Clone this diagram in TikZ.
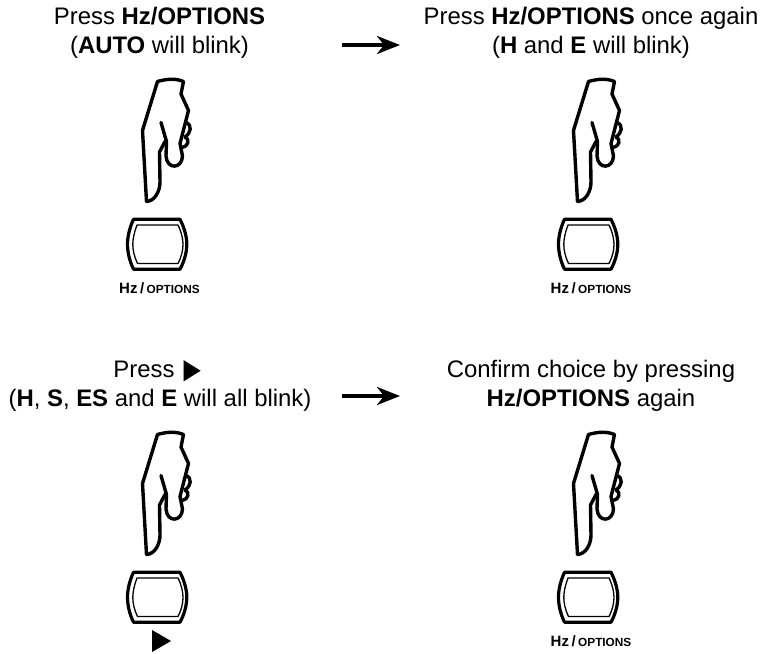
\documentclass[tikz,border=0pt]{standalone}
\usepackage{fontspec}
\setmainfont{Liberation Sans}
\usetikzlibrary{arrows.meta}
\definecolor{ink}{RGB}{0,0,0}
\tikzset{
  x=1pt,y=-1pt,
  caption/.style={align=center,font=\fontsize{23.9}{29}\selectfont,text=ink,inner sep=0pt},
  keylabel/.style={font=\fontsize{15}{17}\selectfont\bfseries,text=ink,inner sep=0pt},
  flow/.style={draw=ink,line width=3.6pt,-{Stealth[length=23pt,width=18pt,inset=7pt]}},
  hand/.pic={
    \begin{scope}[line width=3.4pt,line join=round,line cap=round,draw=ink]
    \draw (36.5,141.5) -- (32.5,70.5) -- (47.5,21.5) .. controls (58,18.5) and (66,18.5) .. (73.5,21.5)
       -- (71,34) -- (78.5,50.5) -- (70,83.5);
    \draw (36.5,141.5) .. controls (45,141) and (50,131) .. (50,122) -- (49.5,92) -- (55,81.5);
    \draw (51,62.5) -- (56.5,81.5) -- (56,96) .. controls (57,110) and (72,109) .. (72.5,96) -- (70,83.5);
    \draw (76,62.5) .. controls (82.5,65) and (81,73) .. (75,77);
    \draw (75,77) .. controls (80.5,79) and (78,87) .. (72,87.5);
    \end{scope}
  },
  keycap/.pic={
    \draw[ink,line width=3.2pt,line join=round] (33.5,14.3) -- (80,14.3) .. controls (85,24) and (86.8,33) .. (86.8,39)
       .. controls (86.8,46) and (85,55) .. (80,64.2) -- (33.5,64.2) .. controls (29,55) and (27.5,46) .. (27.5,39)
       .. controls (27.5,33) and (29,24) .. (33.5,14.3) -- cycle;
    \draw[ink,line width=1.3pt,line join=round] (37,20) -- (78,20) .. controls (81.5,27) and (83,34) .. (83,39.5)
       .. controls (83,45) and (81.5,52) .. (78,58.5) -- (37.5,58.5) .. controls (34.3,52) and (32.8,45) .. (32.8,39.5)
       .. controls (32.8,34) and (34.3,27) .. (37,20) -- cycle;
  }
}
\begin{document}
\begin{tikzpicture}
\useasboundingbox (0,0) rectangle (764,654);
\node[caption] (c1) at (159.5,33) {Press \textbf{Hz/OPTIONS}\\(\textbf{AUTO} will blink)};
\node[caption] (c2) at (591,33) {Press \textbf{Hz/OPTIONS} once again\\(\textbf{H} and \textbf{E} will blink)};
\node[caption] (c3) at (160,386) {Press \hspace{-3pt}\raisebox{-4pt}{\scalebox{1.2}[1.5]{►}}\\(\textbf{H}, \textbf{S}, \textbf{ES} and \textbf{E} will all blink)};
\node[caption] (c4) at (591,386) {Confirm choice by pressing\\\textbf{Hz/OPTIONS} again};
\coordinate (a1s) at (342,45); \coordinate (a1e) at (400,45);
\coordinate (a2s) at (342,396); \coordinate (a2e) at (400,396);
\draw[flow] (a1s) -- (a1e);
\draw[flow] (a2s) -- (a2e);
\pic at (110,60) {hand};
\pic at (541,60) {hand};
\pic at (110,413) {hand};
\pic at (541,413) {hand};
\pic at (100,205) {keycap};
\pic at (531,205) {keycap};
\pic at (100,558) {keycap};
\pic at (531,558) {keycap};
\node[keylabel] (k1) at (159.5,288) {Hz\,/\,{\fontsize{11.8}{14}\selectfont OPTIONS}};
\node[keylabel] (k2) at (591,288) {Hz\,/\,{\fontsize{11.8}{14}\selectfont OPTIONS}};
\node[keylabel] (k4) at (591,641) {Hz\,/\,{\fontsize{11.8}{14}\selectfont OPTIONS}};
\fill[ink] (152,630) -- (171,641) -- (152,652) -- cycle;
\end{tikzpicture}
\end{document}
